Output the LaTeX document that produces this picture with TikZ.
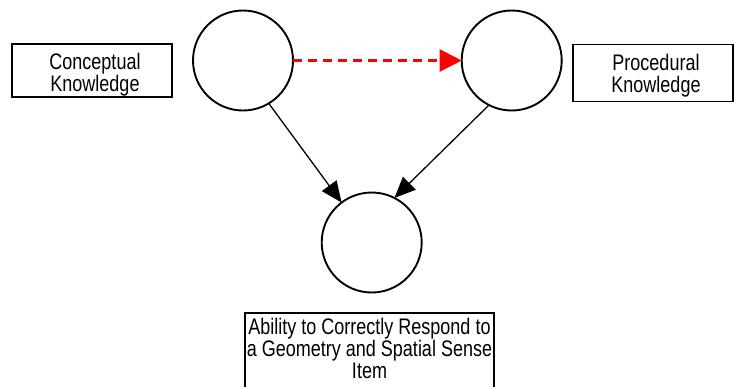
\documentclass[tikz,border=0pt]{standalone}
\usepackage{fontspec}
\setmainfont{Liberation Sans}[FakeStretch=0.8]
\usetikzlibrary{arrows.meta}
\begin{document}
\begin{tikzpicture}[x=1pt,y=-1pt,
  circ/.style={draw, line width=1.9pt, circle, minimum size=100pt, inner sep=0pt, outer sep=0pt},
  boxnode/.style={draw, line width=1.9pt, inner sep=0pt, outer sep=0pt},
  lbl/.style={inner sep=0pt, align=center, font=\fontsize{22.5}{22}\selectfont},
  blackarrow/.style={line width=1.3pt, -{Triangle[length=21pt,width=18pt]}},
  redarrow/.style={line width=2.2pt, red, dash pattern=on 9pt off 6pt, -{Triangle[length=22pt,width=22pt]}}
]
\clip (0,0) rectangle (734,386);
\fill[white] (0,0) rectangle (734,386);
\node[circ] (L) at (243,60.5) {};
\node[circ] (R) at (511.7,60.5) {};
\node[circ] (B) at (371.7,242.5) {};
\node[boxnode, minimum width=160pt, minimum height=53pt] (LB) at (92,70.5) {};
\node[lbl] (LT) at (95,74.6) {Conceptual\\Knowledge};
\node[boxnode, minimum width=160pt, minimum height=57pt] (RB) at (653,73) {};
\node[lbl] (RT) at (656,75.2) {Procedural\\Knowledge};
\node[boxnode, minimum width=249pt, minimum height=100pt] (BB) at (369.5,363) {};
\node[lbl] (BT) at (369.5,348.8) {Ability to Correctly Respond to\\a Geometry and Spatial Sense\\Item};
\draw[redarrow] (L.east) -- (R.west);
\draw[blackarrow] (L.-59) -- (B.127);
\draw[blackarrow] (R.-117) -- (B.63);
\end{tikzpicture}
\end{document}
